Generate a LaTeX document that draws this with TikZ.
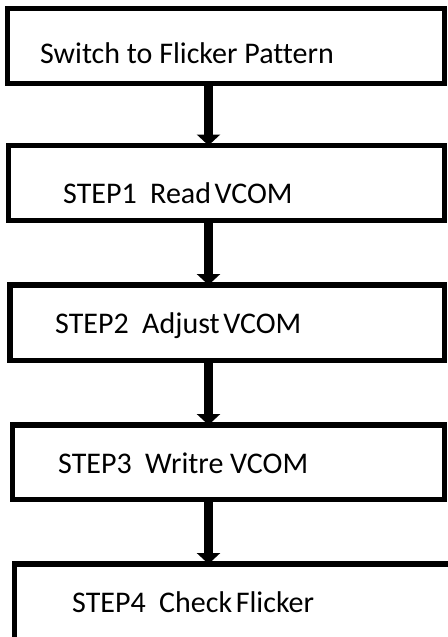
\documentclass[tikz,border=0pt]{standalone}
\usepackage{fontspec}
\setmainfont{Carlito}[Ligatures=NoCommon]
\usetikzlibrary{arrows.meta}
\tikzset{
  box/.style={draw=black, line width=5.5pt, fill=white, rectangle, inner sep=0pt, outer sep=0pt},
  label/.style={anchor=base west, inner sep=0pt, font=\fontsize{30}{34}\selectfont, text=black},
  flow/.style={line width=9pt, -{Triangle[width=23pt,length=11pt]}}
}
\begin{document}
\begin{tikzpicture}[x=1pt,y=-1pt]
\useasboundingbox[fill=white] (0,0) rectangle (447,637);
\node[box, minimum width=437pt, minimum height=75pt] (b1) at (226,46) {};
\node[box, minimum width=436pt, minimum height=75pt] (b2) at (226.5,183) {};
\node[box, minimum width=434.5pt, minimum height=75.5pt] (b3) at (227.25,322.75) {};
\node[box, minimum width=432pt, minimum height=74.5pt] (b4) at (228.5,462.25) {};
\node[box, minimum width=437.5pt, minimum height=76pt] (b5) at (233.25,602) {};
\node[label] (t1) at (40,63) {Switch to Flicker Pattern};
\node[label] (t2) at (63,203) {STEP1\hspace{0.45em}Read\hspace{0.12em}VCOM};
\node[label] (t3) at (55,333) {STEP2\hspace{0.45em}Adjust\hspace{0.12em}VCOM};
\node[label] (t4) at (58,473) {STEP3\hspace{0.45em}Writre VCOM};
\node[label] (t5) at (72,612) {STEP4\hspace{0.45em}Check\hspace{0.12em}Flicker};
\coordinate (ax) at (208.5,0);
\draw[flow] (b1.south -| ax) -- (b2.north -| ax);
\draw[flow] (b2.south -| ax) -- (b3.north -| ax);
\draw[flow] (b3.south -| ax) -- (b4.north -| ax);
\draw[flow] (b4.south -| ax) -- (b5.north -| ax);
\end{tikzpicture}
\end{document}
